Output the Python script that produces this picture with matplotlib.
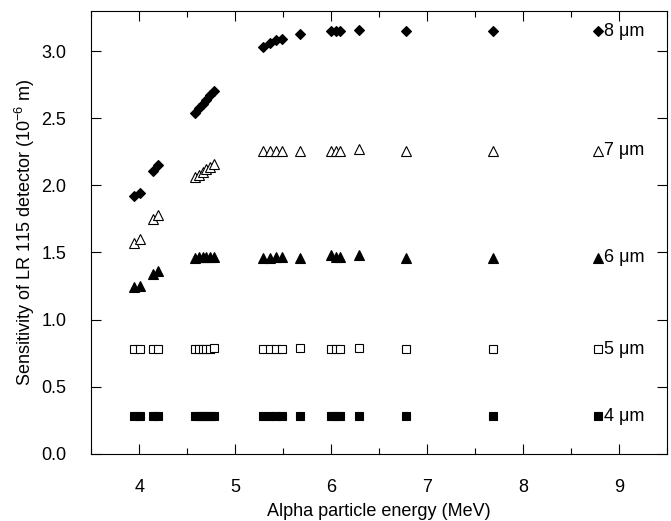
import matplotlib.pyplot as plt
from matplotlib.ticker import MultipleLocator

plt.rcParams['font.family'] = ['Liberation Sans', 'DejaVu Sans']
plt.rcParams['mathtext.fontset'] = 'custom'
plt.rcParams['mathtext.rm'] = 'Liberation Sans'

# alpha energies (MeV), shared by every thickness
energy = [3.95, 4.01, 4.14, 4.20, 4.58, 4.62, 4.66, 4.70, 4.74, 4.78,
          5.29, 5.36, 5.43, 5.49, 5.68, 6.00, 6.05, 6.09, 6.29, 6.78,
          7.69, 8.78]

# sensitivity (10^-6 m) for each residual layer thickness
s8 = [1.92, 1.94, 2.11, 2.15, 2.54, 2.58, 2.61, 2.64, 2.67, 2.70,
      3.03, 3.06, 3.08, 3.09, 3.13, 3.15, 3.15, 3.15, 3.155, 3.15, 3.15, 3.15]
s7 = [1.57, 1.60, 1.75, 1.78, 2.06, 2.08, 2.10, 2.12, 2.14, 2.16,
      2.26, 2.26, 2.26, 2.26, 2.26, 2.26, 2.26, 2.26, 2.27, 2.26, 2.26, 2.26]
s6 = [1.24, 1.25, 1.34, 1.36, 1.46, 1.47, 1.47, 1.47, 1.47, 1.47,
      1.46, 1.46, 1.47, 1.47, 1.46, 1.48, 1.47, 1.47, 1.48, 1.46, 1.46, 1.46]
s5 = [0.78, 0.78, 0.78, 0.78, 0.78, 0.78, 0.78, 0.78, 0.78, 0.79,
      0.78, 0.78, 0.78, 0.78, 0.79, 0.78, 0.78, 0.78, 0.79, 0.78, 0.78, 0.78]
s4 = [0.28] * 22

labels = ['8 \u03bcm', '7 \u03bcm', '6 \u03bcm', '5 \u03bcm', '4 \u03bcm']

fig = plt.figure(figsize=(6.71, 5.21), dpi=100)
ax = fig.add_axes([0.136, 0.129, 0.858, 0.850])

styles = [
    (s8, 'D', 'black', 5.6),
    (s7, '^', 'white', 6.5),
    (s6, '^', 'black', 6.5),
    (s5, 's', 'white', 5.5),
    (s4, 's', 'black', 5.5),
]
for (vals, mk, fc, ms), lab in zip(styles, labels):
    ax.plot(energy, vals, linestyle='none', marker=mk, markersize=ms,
            markerfacecolor=fc, markeredgecolor='black', markeredgewidth=0.8)
    ax.text(energy[-1] + 0.06, vals[-1], lab, fontsize=13, va='center', ha='left')

ax.set_xlim(3.5, 9.5)
ax.set_ylim(0, 3.3)
ax.xaxis.set_major_locator(MultipleLocator(1))
ax.xaxis.set_minor_locator(MultipleLocator(0.5))
ax.yaxis.set_major_locator(MultipleLocator(0.5))
ax.yaxis.set_major_formatter(plt.FormatStrFormatter('%.1f'))
ax.tick_params(which='both', direction='in', top=True, right=True,
               labelsize=13, width=0.8, pad=18)
ax.tick_params(which='major', length=7)
ax.tick_params(which='minor', length=4)
for sp in ax.spines.values():
    sp.set_linewidth(0.8)

ax.set_xlabel('Alpha particle energy (MeV)', fontsize=13, labelpad=5)
ax.set_ylabel('Sensitivity of LR 115 detector (10$\\mathregular{^{-6}}$ m)',
              fontsize=13, labelpad=3)

fig.savefig('out.png', dpi=100)
